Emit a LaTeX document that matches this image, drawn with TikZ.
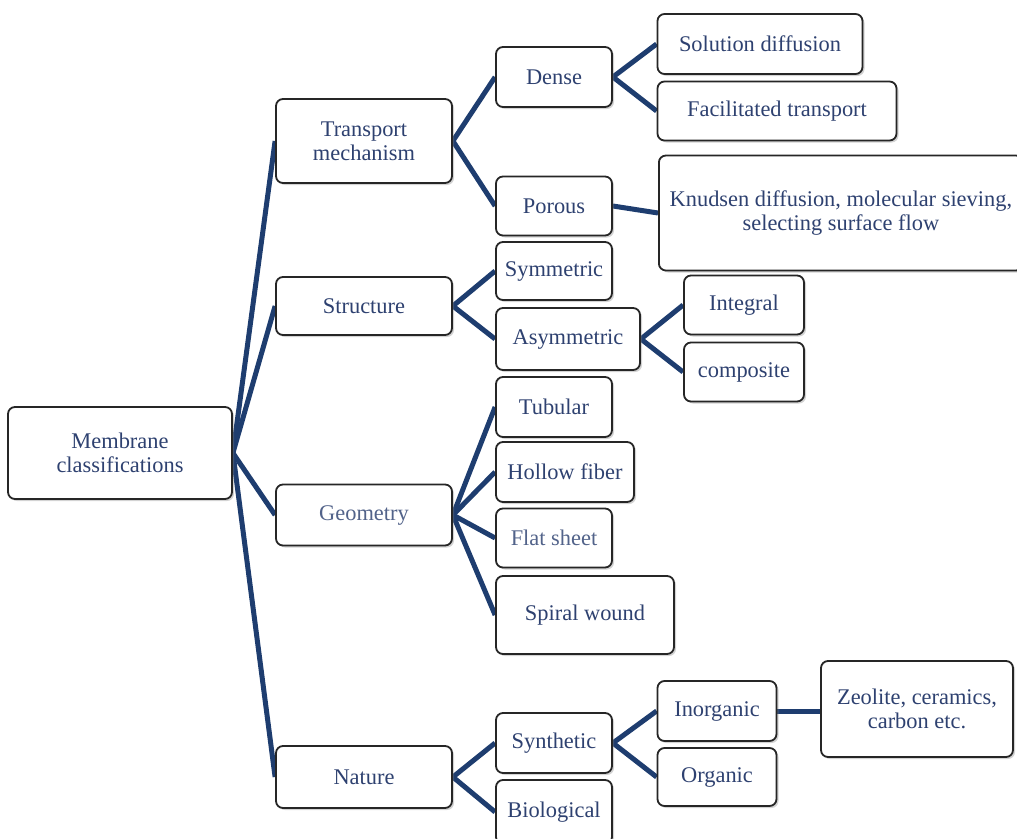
\documentclass[tikz,border=0pt]{standalone}
\usepackage{fontspec}
\setmainfont{Liberation Serif}
\usetikzlibrary{shadows,backgrounds}
\definecolor{txt}{HTML}{2E4170}
\definecolor{txtlight}{HTML}{52638A}
\definecolor{conn}{HTML}{1E3D6F}
\tikzset{
  box/.style={draw=black!85, line width=1.8pt, rounded corners=7pt, fill=white,
    align=center, text=txt, font=\fontsize{22.4}{24}\selectfont,
    drop shadow={opacity=0.35, shadow xshift=2pt, shadow yshift=-2pt}},
  link/.style={draw=conn, line width=5pt}
}
\begin{document}
\begin{tikzpicture}[x=1pt,y=-1pt]
\useasboundingbox (0,0) rectangle (1017,838);
% level 0
\node[box, minimum width=224, minimum height=92] (mem) at (120,453) {Membrane\\classifications};
% level 1
\node[box, minimum width=176, minimum height=84] (tm) at (364,141) {Transport\\mechanism};
\node[box, minimum width=176, minimum height=58] (st) at (364,306) {Structure};
\node[box, minimum width=176, minimum height=61, text=txtlight] (ge) at (364,515) {Geometry};
\node[box, minimum width=176, minimum height=62] (na) at (364,777) {Nature};
% level 2
\node[box, minimum width=116, minimum height=60] (de) at (554,77) {Dense};
\node[box, minimum width=116, minimum height=59] (po) at (554,206) {Porous};
\node[box, minimum width=116, minimum height=58] (sy) at (554,271) {Symmetric};
\node[box, minimum width=144, minimum height=62] (as) at (568,339) {Asymmetric};
\node[box, minimum width=116, minimum height=60] (tu) at (554,407) {Tubular};
\node[box, minimum width=138, minimum height=60] (hf) at (565,472) {Hollow fiber};
\node[box, minimum width=116, minimum height=59, text=txtlight] (fs) at (554,538) {Flat sheet};
\node[box, minimum width=178, minimum height=78] (sw) at (585,615) {Spiral wound};
\node[box, minimum width=116, minimum height=60] (sn) at (554,743) {Synthetic};
\node[box, minimum width=116, minimum height=64] (bi) at (554,812) {Biological};
% level 3
\node[box, minimum width=205, minimum height=60] (sd) at (760,44) {Solution diffusion};
\node[box, minimum width=239, minimum height=59] (ft) at (777,111) {Facilitated transport};
\node[box, minimum width=364, minimum height=115, anchor=west, inner sep=6pt] (kn) at (658,213) {Knudsen diffusion, molecular sieving,\\selecting surface flow};
\node[box, minimum width=120, minimum height=59] (in) at (744,305) {Integral};
\node[box, minimum width=120, minimum height=59] (co) at (744,372) {composite};
\node[box, minimum width=119, minimum height=60] (io) at (717,711) {Inorganic};
\node[box, minimum width=119, minimum height=58] (or) at (717,777) {Organic};
% level 4
\node[box, minimum width=192, minimum height=96] (ze) at (917,709) {Zeolite, ceramics,\\carbon etc.};
% connectors
\begin{scope}[on background layer]
\foreach \c in {tm,st,ge,na} \draw[link] (mem.east) -- (\c.west);
\foreach \c in {de,po} \draw[link] (tm.east) -- (\c.west);
\foreach \c in {sy,as} \draw[link] (st.east) -- (\c.west);
\foreach \c in {tu,hf,fs,sw} \draw[link] (ge.east) -- (\c.west);
\foreach \c in {sn,bi} \draw[link] (na.east) -- (\c.west);
\foreach \c in {sd,ft} \draw[link] (de.east) -- (\c.west);
\draw[link] (po.east) -- (kn.west);
\foreach \c in {in,co} \draw[link] (as.east) -- (\c.west);
\foreach \c in {io,or} \draw[link] (sn.east) -- (\c.west);
\draw[link] (io.east) -- (io.east -| ze.west);
\end{scope}
\end{tikzpicture}
\end{document}
